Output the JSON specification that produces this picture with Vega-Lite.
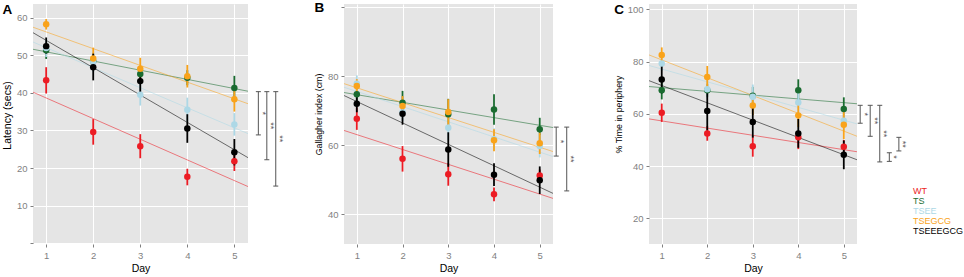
{
  "$schema": "https://vega.github.io/schema/vega-lite/v6.json",
  "padding": {"left": 2, "top": 0, "right": 0, "bottom": 0},
  "background": "white",
  "bounds": "flush",
  "spacing": 96,
  "resolve": {"scale": {"color": "shared"}, "legend": {"color": "shared"}},
  "config": {
    "font": "Liberation Sans",
    "view": {"fill": "#E5E5E5", "stroke": null},
    "axis": {"domain": false, "grid": true, "gridColor": "#FFFFFF", "gridWidth": 1, "tickColor": "#7F7F7F", "tickSize": 3, "labelColor": "#7F7F7F", "labelFontSize": 9.5, "labelFont": "Liberation Sans", "titleFont": "Liberation Sans", "titleFontSize": 10.5, "titleFontWeight": "normal", "titleColor": "#000000", "labelPadding": 3, "titlePadding": 4, "labelOverlap": false},
    "title": {"font": "Liberation Sans", "fontSize": 13.5, "fontWeight": "bold", "color": "#000000", "anchor": "start", "frame": "bounds", "offset": -12}
  },
  "datasets": {
    "points": [
      {"panel": "A", "group": "WT", "day": 1, "y": 43.3, "lo": 39.8, "hi": 46.8},
      {"panel": "A", "group": "WT", "day": 2, "y": 29.6, "lo": 26.2, "hi": 33.0},
      {"panel": "A", "group": "WT", "day": 3, "y": 25.8, "lo": 22.6, "hi": 29.0},
      {"panel": "A", "group": "WT", "day": 4, "y": 17.7, "lo": 15.4, "hi": 19.8},
      {"panel": "A", "group": "WT", "day": 5, "y": 21.8, "lo": 19.2, "hi": 24.0},
      {"panel": "A", "group": "TS", "day": 1, "y": 51.3, "lo": 49.0, "hi": 53.5},
      {"panel": "A", "group": "TS", "day": 2, "y": 48.4, "lo": 46.5, "hi": 50.3},
      {"panel": "A", "group": "TS", "day": 3, "y": 45.0, "lo": 43.0, "hi": 47.0},
      {"panel": "A", "group": "TS", "day": 4, "y": 44.0, "lo": 42.0, "hi": 46.0},
      {"panel": "A", "group": "TS", "day": 5, "y": 41.3, "lo": 38.2, "hi": 44.5},
      {"panel": "A", "group": "TSEE", "day": 1, "y": 51.9, "lo": 49.5, "hi": 54.3},
      {"panel": "A", "group": "TSEE", "day": 2, "y": 48.2, "lo": 45.5, "hi": 50.9},
      {"panel": "A", "group": "TSEE", "day": 3, "y": 39.5, "lo": 36.6, "hi": 42.4},
      {"panel": "A", "group": "TSEE", "day": 4, "y": 35.5, "lo": 32.3, "hi": 38.7},
      {"panel": "A", "group": "TSEE", "day": 5, "y": 31.6, "lo": 28.6, "hi": 34.6},
      {"panel": "A", "group": "TSEGCG", "day": 1, "y": 58.2, "lo": 56.8, "hi": 59.6},
      {"panel": "A", "group": "TSEGCG", "day": 2, "y": 49.1, "lo": 46.5, "hi": 52.0},
      {"panel": "A", "group": "TSEGCG", "day": 3, "y": 46.4, "lo": 43.5, "hi": 49.3},
      {"panel": "A", "group": "TSEGCG", "day": 4, "y": 44.4, "lo": 41.4, "hi": 47.4},
      {"panel": "A", "group": "TSEGCG", "day": 5, "y": 38.3, "lo": 35.0, "hi": 41.6},
      {"panel": "A", "group": "TSEEEGCG", "day": 1, "y": 52.4, "lo": 50.4, "hi": 54.7},
      {"panel": "A", "group": "TSEEEGCG", "day": 2, "y": 46.8, "lo": 43.3, "hi": 50.4},
      {"panel": "A", "group": "TSEEEGCG", "day": 3, "y": 43.1, "lo": 40.2, "hi": 46.0},
      {"panel": "A", "group": "TSEEEGCG", "day": 4, "y": 30.5, "lo": 26.7, "hi": 34.3},
      {"panel": "A", "group": "TSEEEGCG", "day": 5, "y": 24.2, "lo": 20.7, "hi": 27.7},
      {"panel": "B", "group": "WT", "day": 1, "y": 67.7, "lo": 64.5, "hi": 71.0},
      {"panel": "B", "group": "WT", "day": 2, "y": 56.1, "lo": 52.4, "hi": 59.8},
      {"panel": "B", "group": "WT", "day": 3, "y": 51.6, "lo": 48.3, "hi": 54.9},
      {"panel": "B", "group": "WT", "day": 4, "y": 45.8, "lo": 43.8, "hi": 47.8},
      {"panel": "B", "group": "WT", "day": 5, "y": 51.3, "lo": 49.5, "hi": 53.0},
      {"panel": "B", "group": "TS", "day": 1, "y": 74.8, "lo": 72.8, "hi": 76.8},
      {"panel": "B", "group": "TS", "day": 2, "y": 72.4, "lo": 69.0, "hi": 75.8},
      {"panel": "B", "group": "TS", "day": 3, "y": 69.0, "lo": 64.5, "hi": 73.5},
      {"panel": "B", "group": "TS", "day": 4, "y": 70.4, "lo": 66.0, "hi": 74.8},
      {"panel": "B", "group": "TS", "day": 5, "y": 64.7, "lo": 61.4, "hi": 68.0},
      {"panel": "B", "group": "TSEE", "day": 1, "y": 77.9, "lo": 75.5, "hi": 80.3},
      {"panel": "B", "group": "TSEE", "day": 2, "y": 69.6, "lo": 67.0, "hi": 72.3},
      {"panel": "B", "group": "TSEE", "day": 3, "y": 65.1, "lo": 61.5, "hi": 68.7},
      {"panel": "B", "group": "TSEE", "day": 4, "y": 61.8, "lo": 58.5, "hi": 65.0},
      {"panel": "B", "group": "TSEE", "day": 5, "y": 59.8, "lo": 56.5, "hi": 63.0},
      {"panel": "B", "group": "TSEGCG", "day": 1, "y": 77.2, "lo": 75.2, "hi": 79.2},
      {"panel": "B", "group": "TSEGCG", "day": 2, "y": 71.4, "lo": 68.5, "hi": 74.3},
      {"panel": "B", "group": "TSEGCG", "day": 3, "y": 69.7, "lo": 66.0, "hi": 73.4},
      {"panel": "B", "group": "TSEGCG", "day": 4, "y": 61.5, "lo": 58.3, "hi": 64.7},
      {"panel": "B", "group": "TSEGCG", "day": 5, "y": 60.6, "lo": 57.5, "hi": 63.7},
      {"panel": "B", "group": "TSEEEGCG", "day": 1, "y": 72.1, "lo": 69.6, "hi": 74.6},
      {"panel": "B", "group": "TSEEEGCG", "day": 2, "y": 69.2, "lo": 66.0, "hi": 72.4},
      {"panel": "B", "group": "TSEEEGCG", "day": 3, "y": 58.8, "lo": 53.8, "hi": 63.8},
      {"panel": "B", "group": "TSEEEGCG", "day": 4, "y": 51.5, "lo": 48.2, "hi": 54.8},
      {"panel": "B", "group": "TSEEEGCG", "day": 5, "y": 49.9, "lo": 45.9, "hi": 53.9},
      {"panel": "C", "group": "WT", "day": 1, "y": 60.4, "lo": 56.9, "hi": 63.9},
      {"panel": "C", "group": "WT", "day": 2, "y": 52.5, "lo": 49.7, "hi": 55.3},
      {"panel": "C", "group": "WT", "day": 3, "y": 47.6, "lo": 43.6, "hi": 51.6},
      {"panel": "C", "group": "WT", "day": 4, "y": 51.0, "lo": 46.5, "hi": 53.0},
      {"panel": "C", "group": "WT", "day": 5, "y": 47.4, "lo": 44.5, "hi": 50.0},
      {"panel": "C", "group": "TS", "day": 1, "y": 69.0, "lo": 65.5, "hi": 72.5},
      {"panel": "C", "group": "TS", "day": 2, "y": 69.0, "lo": 66.5, "hi": 71.5},
      {"panel": "C", "group": "TS", "day": 3, "y": 66.9, "lo": 63.5, "hi": 70.3},
      {"panel": "C", "group": "TS", "day": 4, "y": 69.0, "lo": 64.8, "hi": 73.2},
      {"panel": "C", "group": "TS", "day": 5, "y": 61.8, "lo": 57.3, "hi": 66.3},
      {"panel": "C", "group": "TSEE", "day": 1, "y": 79.2, "lo": 76.5, "hi": 81.9},
      {"panel": "C", "group": "TSEE", "day": 2, "y": 69.4, "lo": 66.0, "hi": 72.8},
      {"panel": "C", "group": "TSEE", "day": 3, "y": 66.5, "lo": 61.8, "hi": 71.2},
      {"panel": "C", "group": "TSEE", "day": 4, "y": 64.3, "lo": 60.5, "hi": 68.1},
      {"panel": "C", "group": "TSEE", "day": 5, "y": 57.3, "lo": 53.5, "hi": 61.1},
      {"panel": "C", "group": "TSEGCG", "day": 1, "y": 82.5, "lo": 79.6, "hi": 85.4},
      {"panel": "C", "group": "TSEGCG", "day": 2, "y": 74.1, "lo": 69.9, "hi": 78.3},
      {"panel": "C", "group": "TSEGCG", "day": 3, "y": 63.2, "lo": 59.5, "hi": 66.9},
      {"panel": "C", "group": "TSEGCG", "day": 4, "y": 59.4, "lo": 54.9, "hi": 63.9},
      {"panel": "C", "group": "TSEGCG", "day": 5, "y": 55.8, "lo": 50.3, "hi": 61.3},
      {"panel": "C", "group": "TSEEEGCG", "day": 1, "y": 73.1, "lo": 67.8, "hi": 78.4},
      {"panel": "C", "group": "TSEEEGCG", "day": 2, "y": 61.1, "lo": 53.6, "hi": 68.6},
      {"panel": "C", "group": "TSEEEGCG", "day": 3, "y": 56.9, "lo": 50.9, "hi": 62.9},
      {"panel": "C", "group": "TSEEEGCG", "day": 4, "y": 52.5, "lo": 47.0, "hi": 58.0},
      {"panel": "C", "group": "TSEEEGCG", "day": 5, "y": 44.3, "lo": 38.8, "hi": 49.8}
    ],
    "brackets": [
      {"panel": "A", "bx": 5.51, "top": 40.3, "bottom": 28.8, "mid": 34.55, "label": "*"},
      {"panel": "A", "bx": 5.69, "top": 40.3, "bottom": 22.2, "mid": 31.25, "label": "**"},
      {"panel": "A", "bx": 5.88, "top": 40.3, "bottom": 15.2, "mid": 27.75, "label": "**"},
      {"panel": "B", "bx": 5.36, "top": 65.3, "bottom": 56.9, "mid": 61.1, "label": "*"},
      {"panel": "B", "bx": 5.59, "top": 65.3, "bottom": 46.8, "mid": 56.05, "label": "**"},
      {"panel": "C", "bx": 5.36, "top": 63.25, "bottom": 56.4, "mid": 59.8, "label": "*"},
      {"panel": "C", "bx": 5.58, "top": 63.25, "bottom": 51.4, "mid": 57.3, "label": "**"},
      {"panel": "C", "bx": 5.79, "top": 63.25, "bottom": 41.6, "mid": 52.4, "label": "**"},
      {"panel": "C", "bx": 6.0, "top": 45.1, "bottom": 41.8, "mid": 43.45, "label": "*"},
      {"panel": "C", "bx": 6.21, "top": 51.0, "bottom": 45.8, "mid": 48.4, "label": "**"}
    ]
  },
  "hconcat": [
    {
      "width": 215, "height": 240,
      "title": {"text": "A"},
      "data": {"name": "points"},
      "transform": [{"filter": "datum.panel == 'A'"}],
      "layer": [
        {"transform": [{"regression": "y", "on": "day", "groupby": ["group"], "extent": [0.72, 5.29]}],
         "mark": {"type": "line", "strokeWidth": 1, "opacity": 0.55},
         "encoding": {
           "x": {"field": "day", "type": "quantitative", "scale": {"domain": [0.72, 5.29], "nice": false, "zero": false}, "axis": {"title": "Day", "values": [1, 2, 3, 4, 5], "format": "d"}},
           "y": {"field": "y", "type": "quantitative", "scale": {"domain": [-0.2, 63.6], "nice": false, "zero": false}, "axis": {"title": "Latency (secs)", "titleY": 111, "values": [0, 10, 20, 30, 40, 50, 60], "labelExpr": "datum.value == 0 ? '' : datum.label"}},
           "color": {"field": "group", "type": "nominal", "scale": {"domain": ["WT", "TS", "TSEE", "TSEGCG", "TSEEEGCG"], "range": ["#EC1C24", "#1A6B30", "#ADD8E6", "#F9A31B", "#000000"]}, "legend": {"orient": "none", "legendX": 871, "legendY": 183, "title": null, "symbolOpacity": 0, "symbolSize": 0, "symbolStrokeWidth": 0, "labelOffset": 0, "labelFontSize": 9, "labelFont": "Liberation Sans", "rowPadding": 0, "clipHeight": 8.5, "padding": 0, "encode": {"labels": {"update": {"fill": {"scale": "color", "field": "value"}}}}}}
         }},
        {"mark": {"type": "rule", "strokeWidth": 1.8},
         "encoding": {
           "x": {"field": "day", "type": "quantitative", "scale": {"domain": [0.72, 5.29], "nice": false, "zero": false}, "axis": {"title": "Day", "values": [1, 2, 3, 4, 5], "format": "d"}},
           "y": {"field": "lo", "type": "quantitative", "scale": {"domain": [-0.2, 63.6], "nice": false, "zero": false}, "axis": {"title": "Latency (secs)", "titleY": 111, "values": [0, 10, 20, 30, 40, 50, 60], "labelExpr": "datum.value == 0 ? '' : datum.label"}},
           "y2": {"field": "hi"},
           "color": {"field": "group", "type": "nominal", "scale": {"domain": ["WT", "TS", "TSEE", "TSEGCG", "TSEEEGCG"], "range": ["#EC1C24", "#1A6B30", "#ADD8E6", "#F9A31B", "#000000"]}, "legend": {"orient": "none", "legendX": 871, "legendY": 183, "title": null, "symbolOpacity": 0, "symbolSize": 0, "symbolStrokeWidth": 0, "labelOffset": 0, "labelFontSize": 9, "labelFont": "Liberation Sans", "rowPadding": 0, "clipHeight": 8.5, "padding": 0, "encode": {"labels": {"update": {"fill": {"scale": "color", "field": "value"}}}}}}
         }},
        {"mark": {"type": "point", "filled": true, "size": 42, "opacity": 1},
         "encoding": {
           "x": {"field": "day", "type": "quantitative", "scale": {"domain": [0.72, 5.29], "nice": false, "zero": false}, "axis": {"title": "Day", "values": [1, 2, 3, 4, 5], "format": "d"}},
           "y": {"field": "y", "type": "quantitative", "scale": {"domain": [-0.2, 63.6], "nice": false, "zero": false}, "axis": {"title": "Latency (secs)", "titleY": 111, "values": [0, 10, 20, 30, 40, 50, 60], "labelExpr": "datum.value == 0 ? '' : datum.label"}},
           "color": {"field": "group", "type": "nominal", "scale": {"domain": ["WT", "TS", "TSEE", "TSEGCG", "TSEEEGCG"], "range": ["#EC1C24", "#1A6B30", "#ADD8E6", "#F9A31B", "#000000"]}, "legend": {"orient": "none", "legendX": 871, "legendY": 183, "title": null, "symbolOpacity": 0, "symbolSize": 0, "symbolStrokeWidth": 0, "labelOffset": 0, "labelFontSize": 9, "labelFont": "Liberation Sans", "rowPadding": 0, "clipHeight": 8.5, "padding": 0, "encode": {"labels": {"update": {"fill": {"scale": "color", "field": "value"}}}}}}
         }},
        {"data": {"name": "brackets"}, "transform": [{"filter": "datum.panel == 'A'"}],
         "layer": [
           {"mark": {"type": "rule", "color": "#555555", "strokeWidth": 1},
            "encoding": {"x": {"field": "bx", "type": "quantitative", "scale": {"domain": [0.72, 5.29], "nice": false, "zero": false}, "axis": {"title": "Day", "values": [1, 2, 3, 4, 5], "format": "d"}}, "y": {"field": "top", "type": "quantitative", "scale": {"domain": [-0.2, 63.6], "nice": false, "zero": false}, "axis": {"title": "Latency (secs)", "titleY": 111, "values": [0, 10, 20, 30, 40, 50, 60], "labelExpr": "datum.value == 0 ? '' : datum.label"}}, "y2": {"field": "bottom"}}},
           {"mark": {"type": "tick", "orient": "horizontal", "color": "#555555", "size": 5, "thickness": 1, "opacity": 1},
            "encoding": {"x": {"field": "bx", "type": "quantitative", "scale": {"domain": [0.72, 5.29], "nice": false, "zero": false}, "axis": {"title": "Day", "values": [1, 2, 3, 4, 5], "format": "d"}}, "y": {"field": "top", "type": "quantitative", "scale": {"domain": [-0.2, 63.6], "nice": false, "zero": false}, "axis": {"title": "Latency (secs)", "titleY": 111, "values": [0, 10, 20, 30, 40, 50, 60], "labelExpr": "datum.value == 0 ? '' : datum.label"}}}},
           {"mark": {"type": "tick", "orient": "horizontal", "color": "#555555", "size": 5, "thickness": 1, "opacity": 1},
            "encoding": {"x": {"field": "bx", "type": "quantitative", "scale": {"domain": [0.72, 5.29], "nice": false, "zero": false}, "axis": {"title": "Day", "values": [1, 2, 3, 4, 5], "format": "d"}}, "y": {"field": "bottom", "type": "quantitative", "scale": {"domain": [-0.2, 63.6], "nice": false, "zero": false}, "axis": {"title": "Latency (secs)", "titleY": 111, "values": [0, 10, 20, 30, 40, 50, 60], "labelExpr": "datum.value == 0 ? '' : datum.label"}}}},
           {"mark": {"type": "text", "angle": 90, "baseline": "middle", "align": "center", "dy": -4.5, "fontSize": 9, "color": "#555555"},
            "encoding": {"x": {"field": "bx", "type": "quantitative", "scale": {"domain": [0.72, 5.29], "nice": false, "zero": false}, "axis": {"title": "Day", "values": [1, 2, 3, 4, 5], "format": "d"}}, "y": {"field": "mid", "type": "quantitative", "scale": {"domain": [-0.2, 63.6], "nice": false, "zero": false}, "axis": {"title": "Latency (secs)", "titleY": 111, "values": [0, 10, 20, 30, 40, 50, 60], "labelExpr": "datum.value == 0 ? '' : datum.label"}}, "text": {"field": "label"}}}
         ]}
      ]
    },
    {
      "width": 209, "height": 240,
      "title": {"text": "B"},
      "data": {"name": "points"},
      "transform": [{"filter": "datum.panel == 'B'"}],
      "layer": [
        {"transform": [{"regression": "y", "on": "day", "groupby": ["group"], "extent": [0.72, 5.29]}],
         "mark": {"type": "line", "strokeWidth": 1, "opacity": 0.55},
         "encoding": {
           "x": {"field": "day", "type": "quantitative", "scale": {"domain": [0.72, 5.29], "nice": false, "zero": false}, "axis": {"title": "Day", "values": [1, 2, 3, 4, 5], "format": "d"}},
           "y": {"field": "y", "type": "quantitative", "scale": {"domain": [31.4, 101], "nice": false, "zero": false}, "axis": {"title": "Gallagher index (cm)", "titleFontSize": 8.8, "titleY": 110, "values": [40, 60, 80, 100], "labelExpr": "datum.value == 100 ? '' : datum.label"}},
           "color": {"field": "group", "type": "nominal", "scale": {"domain": ["WT", "TS", "TSEE", "TSEGCG", "TSEEEGCG"], "range": ["#EC1C24", "#1A6B30", "#ADD8E6", "#F9A31B", "#000000"]}, "legend": {"orient": "none", "legendX": 871, "legendY": 183, "title": null, "symbolOpacity": 0, "symbolSize": 0, "symbolStrokeWidth": 0, "labelOffset": 0, "labelFontSize": 9, "labelFont": "Liberation Sans", "rowPadding": 0, "clipHeight": 8.5, "padding": 0, "encode": {"labels": {"update": {"fill": {"scale": "color", "field": "value"}}}}}}
         }},
        {"mark": {"type": "rule", "strokeWidth": 1.8},
         "encoding": {
           "x": {"field": "day", "type": "quantitative", "scale": {"domain": [0.72, 5.29], "nice": false, "zero": false}, "axis": {"title": "Day", "values": [1, 2, 3, 4, 5], "format": "d"}},
           "y": {"field": "lo", "type": "quantitative", "scale": {"domain": [31.4, 101], "nice": false, "zero": false}, "axis": {"title": "Gallagher index (cm)", "titleFontSize": 8.8, "titleY": 110, "values": [40, 60, 80, 100], "labelExpr": "datum.value == 100 ? '' : datum.label"}},
           "y2": {"field": "hi"},
           "color": {"field": "group", "type": "nominal", "scale": {"domain": ["WT", "TS", "TSEE", "TSEGCG", "TSEEEGCG"], "range": ["#EC1C24", "#1A6B30", "#ADD8E6", "#F9A31B", "#000000"]}, "legend": {"orient": "none", "legendX": 871, "legendY": 183, "title": null, "symbolOpacity": 0, "symbolSize": 0, "symbolStrokeWidth": 0, "labelOffset": 0, "labelFontSize": 9, "labelFont": "Liberation Sans", "rowPadding": 0, "clipHeight": 8.5, "padding": 0, "encode": {"labels": {"update": {"fill": {"scale": "color", "field": "value"}}}}}}
         }},
        {"mark": {"type": "point", "filled": true, "size": 42, "opacity": 1},
         "encoding": {
           "x": {"field": "day", "type": "quantitative", "scale": {"domain": [0.72, 5.29], "nice": false, "zero": false}, "axis": {"title": "Day", "values": [1, 2, 3, 4, 5], "format": "d"}},
           "y": {"field": "y", "type": "quantitative", "scale": {"domain": [31.4, 101], "nice": false, "zero": false}, "axis": {"title": "Gallagher index (cm)", "titleFontSize": 8.8, "titleY": 110, "values": [40, 60, 80, 100], "labelExpr": "datum.value == 100 ? '' : datum.label"}},
           "color": {"field": "group", "type": "nominal", "scale": {"domain": ["WT", "TS", "TSEE", "TSEGCG", "TSEEEGCG"], "range": ["#EC1C24", "#1A6B30", "#ADD8E6", "#F9A31B", "#000000"]}, "legend": {"orient": "none", "legendX": 871, "legendY": 183, "title": null, "symbolOpacity": 0, "symbolSize": 0, "symbolStrokeWidth": 0, "labelOffset": 0, "labelFontSize": 9, "labelFont": "Liberation Sans", "rowPadding": 0, "clipHeight": 8.5, "padding": 0, "encode": {"labels": {"update": {"fill": {"scale": "color", "field": "value"}}}}}}
         }},
        {"data": {"name": "brackets"}, "transform": [{"filter": "datum.panel == 'B'"}],
         "layer": [
           {"mark": {"type": "rule", "color": "#555555", "strokeWidth": 1},
            "encoding": {"x": {"field": "bx", "type": "quantitative", "scale": {"domain": [0.72, 5.29], "nice": false, "zero": false}, "axis": {"title": "Day", "values": [1, 2, 3, 4, 5], "format": "d"}}, "y": {"field": "top", "type": "quantitative", "scale": {"domain": [31.4, 101], "nice": false, "zero": false}, "axis": {"title": "Gallagher index (cm)", "titleFontSize": 8.8, "titleY": 110, "values": [40, 60, 80, 100], "labelExpr": "datum.value == 100 ? '' : datum.label"}}, "y2": {"field": "bottom"}}},
           {"mark": {"type": "tick", "orient": "horizontal", "color": "#555555", "size": 5, "thickness": 1, "opacity": 1},
            "encoding": {"x": {"field": "bx", "type": "quantitative", "scale": {"domain": [0.72, 5.29], "nice": false, "zero": false}, "axis": {"title": "Day", "values": [1, 2, 3, 4, 5], "format": "d"}}, "y": {"field": "top", "type": "quantitative", "scale": {"domain": [31.4, 101], "nice": false, "zero": false}, "axis": {"title": "Gallagher index (cm)", "titleFontSize": 8.8, "titleY": 110, "values": [40, 60, 80, 100], "labelExpr": "datum.value == 100 ? '' : datum.label"}}}},
           {"mark": {"type": "tick", "orient": "horizontal", "color": "#555555", "size": 5, "thickness": 1, "opacity": 1},
            "encoding": {"x": {"field": "bx", "type": "quantitative", "scale": {"domain": [0.72, 5.29], "nice": false, "zero": false}, "axis": {"title": "Day", "values": [1, 2, 3, 4, 5], "format": "d"}}, "y": {"field": "bottom", "type": "quantitative", "scale": {"domain": [31.4, 101], "nice": false, "zero": false}, "axis": {"title": "Gallagher index (cm)", "titleFontSize": 8.8, "titleY": 110, "values": [40, 60, 80, 100], "labelExpr": "datum.value == 100 ? '' : datum.label"}}}},
           {"mark": {"type": "text", "angle": 90, "baseline": "middle", "align": "center", "dy": -4.5, "fontSize": 9, "color": "#555555"},
            "encoding": {"x": {"field": "bx", "type": "quantitative", "scale": {"domain": [0.72, 5.29], "nice": false, "zero": false}, "axis": {"title": "Day", "values": [1, 2, 3, 4, 5], "format": "d"}}, "y": {"field": "mid", "type": "quantitative", "scale": {"domain": [31.4, 101], "nice": false, "zero": false}, "axis": {"title": "Gallagher index (cm)", "titleFontSize": 8.8, "titleY": 110, "values": [40, 60, 80, 100], "labelExpr": "datum.value == 100 ? '' : datum.label"}}, "text": {"field": "label"}}}
         ]}
      ]
    },
    {
      "width": 208, "height": 240,
      "title": {"text": "C"},
      "data": {"name": "points"},
      "transform": [{"filter": "datum.panel == 'C'"}],
      "layer": [
        {"transform": [{"regression": "y", "on": "day", "groupby": ["group"], "extent": [0.72, 5.29]}],
         "mark": {"type": "line", "strokeWidth": 1, "opacity": 0.55},
         "encoding": {
           "x": {"field": "day", "type": "quantitative", "scale": {"domain": [0.72, 5.29], "nice": false, "zero": false}, "axis": {"title": "Day", "values": [1, 2, 3, 4, 5], "format": "d"}},
           "y": {"field": "y", "type": "quantitative", "scale": {"domain": [10.2, 102], "nice": false, "zero": false}, "axis": {"title": "% Time in periphery", "titleFontSize": 8.8, "titleY": 110, "values": [20, 40, 60, 80, 100]}},
           "color": {"field": "group", "type": "nominal", "scale": {"domain": ["WT", "TS", "TSEE", "TSEGCG", "TSEEEGCG"], "range": ["#EC1C24", "#1A6B30", "#ADD8E6", "#F9A31B", "#000000"]}, "legend": {"orient": "none", "legendX": 871, "legendY": 183, "title": null, "symbolOpacity": 0, "symbolSize": 0, "symbolStrokeWidth": 0, "labelOffset": 0, "labelFontSize": 9, "labelFont": "Liberation Sans", "rowPadding": 0, "clipHeight": 8.5, "padding": 0, "encode": {"labels": {"update": {"fill": {"scale": "color", "field": "value"}}}}}}
         }},
        {"mark": {"type": "rule", "strokeWidth": 1.8},
         "encoding": {
           "x": {"field": "day", "type": "quantitative", "scale": {"domain": [0.72, 5.29], "nice": false, "zero": false}, "axis": {"title": "Day", "values": [1, 2, 3, 4, 5], "format": "d"}},
           "y": {"field": "lo", "type": "quantitative", "scale": {"domain": [10.2, 102], "nice": false, "zero": false}, "axis": {"title": "% Time in periphery", "titleFontSize": 8.8, "titleY": 110, "values": [20, 40, 60, 80, 100]}},
           "y2": {"field": "hi"},
           "color": {"field": "group", "type": "nominal", "scale": {"domain": ["WT", "TS", "TSEE", "TSEGCG", "TSEEEGCG"], "range": ["#EC1C24", "#1A6B30", "#ADD8E6", "#F9A31B", "#000000"]}, "legend": {"orient": "none", "legendX": 871, "legendY": 183, "title": null, "symbolOpacity": 0, "symbolSize": 0, "symbolStrokeWidth": 0, "labelOffset": 0, "labelFontSize": 9, "labelFont": "Liberation Sans", "rowPadding": 0, "clipHeight": 8.5, "padding": 0, "encode": {"labels": {"update": {"fill": {"scale": "color", "field": "value"}}}}}}
         }},
        {"mark": {"type": "point", "filled": true, "size": 42, "opacity": 1},
         "encoding": {
           "x": {"field": "day", "type": "quantitative", "scale": {"domain": [0.72, 5.29], "nice": false, "zero": false}, "axis": {"title": "Day", "values": [1, 2, 3, 4, 5], "format": "d"}},
           "y": {"field": "y", "type": "quantitative", "scale": {"domain": [10.2, 102], "nice": false, "zero": false}, "axis": {"title": "% Time in periphery", "titleFontSize": 8.8, "titleY": 110, "values": [20, 40, 60, 80, 100]}},
           "color": {"field": "group", "type": "nominal", "scale": {"domain": ["WT", "TS", "TSEE", "TSEGCG", "TSEEEGCG"], "range": ["#EC1C24", "#1A6B30", "#ADD8E6", "#F9A31B", "#000000"]}, "legend": {"orient": "none", "legendX": 871, "legendY": 183, "title": null, "symbolOpacity": 0, "symbolSize": 0, "symbolStrokeWidth": 0, "labelOffset": 0, "labelFontSize": 9, "labelFont": "Liberation Sans", "rowPadding": 0, "clipHeight": 8.5, "padding": 0, "encode": {"labels": {"update": {"fill": {"scale": "color", "field": "value"}}}}}}
         }},
        {"data": {"name": "brackets"}, "transform": [{"filter": "datum.panel == 'C'"}],
         "layer": [
           {"mark": {"type": "rule", "color": "#555555", "strokeWidth": 1},
            "encoding": {"x": {"field": "bx", "type": "quantitative", "scale": {"domain": [0.72, 5.29], "nice": false, "zero": false}, "axis": {"title": "Day", "values": [1, 2, 3, 4, 5], "format": "d"}}, "y": {"field": "top", "type": "quantitative", "scale": {"domain": [10.2, 102], "nice": false, "zero": false}, "axis": {"title": "% Time in periphery", "titleFontSize": 8.8, "titleY": 110, "values": [20, 40, 60, 80, 100]}}, "y2": {"field": "bottom"}}},
           {"mark": {"type": "tick", "orient": "horizontal", "color": "#555555", "size": 5, "thickness": 1, "opacity": 1},
            "encoding": {"x": {"field": "bx", "type": "quantitative", "scale": {"domain": [0.72, 5.29], "nice": false, "zero": false}, "axis": {"title": "Day", "values": [1, 2, 3, 4, 5], "format": "d"}}, "y": {"field": "top", "type": "quantitative", "scale": {"domain": [10.2, 102], "nice": false, "zero": false}, "axis": {"title": "% Time in periphery", "titleFontSize": 8.8, "titleY": 110, "values": [20, 40, 60, 80, 100]}}}},
           {"mark": {"type": "tick", "orient": "horizontal", "color": "#555555", "size": 5, "thickness": 1, "opacity": 1},
            "encoding": {"x": {"field": "bx", "type": "quantitative", "scale": {"domain": [0.72, 5.29], "nice": false, "zero": false}, "axis": {"title": "Day", "values": [1, 2, 3, 4, 5], "format": "d"}}, "y": {"field": "bottom", "type": "quantitative", "scale": {"domain": [10.2, 102], "nice": false, "zero": false}, "axis": {"title": "% Time in periphery", "titleFontSize": 8.8, "titleY": 110, "values": [20, 40, 60, 80, 100]}}}},
           {"mark": {"type": "text", "angle": 90, "baseline": "middle", "align": "center", "dy": -4.5, "fontSize": 9, "color": "#555555"},
            "encoding": {"x": {"field": "bx", "type": "quantitative", "scale": {"domain": [0.72, 5.29], "nice": false, "zero": false}, "axis": {"title": "Day", "values": [1, 2, 3, 4, 5], "format": "d"}}, "y": {"field": "mid", "type": "quantitative", "scale": {"domain": [10.2, 102], "nice": false, "zero": false}, "axis": {"title": "% Time in periphery", "titleFontSize": 8.8, "titleY": 110, "values": [20, 40, 60, 80, 100]}}, "text": {"field": "label"}}}
         ]}
      ]
    }
  ]
}
